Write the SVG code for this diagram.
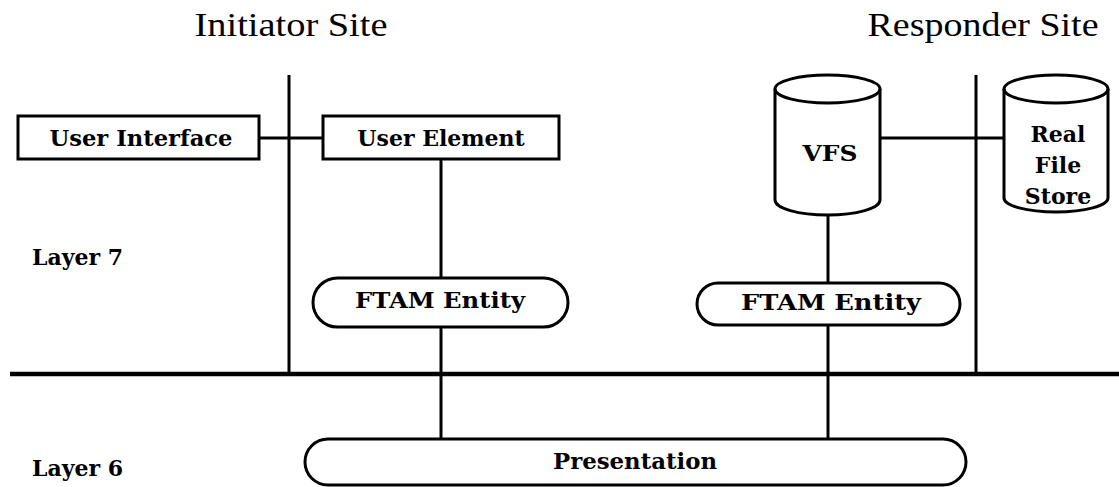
<svg xmlns="http://www.w3.org/2000/svg" width="1119" height="487" viewBox="0 0 1119 487">
<style>
.t{font-family:"DejaVu Serif","Liberation Serif",serif;font-size:22px;font-weight:bold;fill:#000;text-anchor:middle}
.l{font-family:"DejaVu Serif","Liberation Serif",serif;font-size:22px;font-weight:bold;fill:#000}
.h{font-family:"Liberation Serif",serif;font-size:33px;fill:#000;text-anchor:middle}
.s{fill:#fff;stroke:#000;stroke-width:3}
.c{stroke:#000;stroke-width:3;fill:none}
</style>
<rect width="1119" height="487" fill="#fff"/>
<text class="h" x="291" y="36" textLength="193" lengthAdjust="spacingAndGlyphs">Initiator Site</text>
<text class="h" x="983" y="36" textLength="231" lengthAdjust="spacingAndGlyphs">Responder Site</text>
<text class="l" x="32" y="265">Layer 7</text>
<text class="l" x="32" y="476">Layer 6</text>
<g id="connectors">
<line class="c" x1="289" y1="75" x2="289" y2="374"/>
<line class="c" x1="976" y1="75" x2="976" y2="374"/>
<line class="c" x1="259" y1="138" x2="323" y2="138"/>
<line class="c" x1="880" y1="138" x2="1004" y2="138"/>
<line class="c" x1="441" y1="159" x2="441" y2="278"/>
<line class="c" x1="441" y1="327" x2="441" y2="439"/>
<line class="c" x1="828" y1="215" x2="828" y2="283"/>
<line class="c" x1="828" y1="325" x2="828" y2="439"/>
<line x1="10" y1="374" x2="1119" y2="374" stroke="#000" stroke-width="4.5"/>
</g>
<g id="user-interface">
<rect class="s" x="18" y="116" width="241" height="43"/>
<text class="t" x="141" y="146" textLength="183" lengthAdjust="spacingAndGlyphs">User Interface</text>
</g>
<g id="user-element">
<rect class="s" x="323" y="116" width="236" height="43"/>
<text class="t" x="441" y="146">User Element</text>
</g>
<g id="ftam-initiator">
<rect class="s" x="313" y="278" width="255" height="49" rx="24.5"/>
<text class="t" x="440" y="308" textLength="170" lengthAdjust="spacingAndGlyphs">FTAM Entity</text>
</g>
<g id="vfs">
<path class="s" d="M775,89 A52.5,14 0 0 1 880,89 L880,200 A52.5,15 0 0 1 775,200 Z"/>
<path class="c" d="M775,89 A52.5,14 0 0 0 880,89"/>
<text class="t" x="830" y="161" textLength="55" lengthAdjust="spacingAndGlyphs">VFS</text>
</g>
<g id="real-file-store">
<path class="s" d="M1004,89 A52,14 0 0 1 1108,89 L1108,198 A52,14 0 0 1 1004,198 Z"/>
<path class="c" d="M1004,89 A52,14 0 0 0 1108,89"/>
<text class="t" x="1058" y="142">Real</text>
<text class="t" x="1058" y="173">File</text>
<text class="t" x="1058" y="204">Store</text>
</g>
<g id="ftam-responder">
<rect class="s" x="697" y="283" width="263" height="42" rx="21"/>
<text class="t" x="831" y="310" textLength="180" lengthAdjust="spacingAndGlyphs">FTAM Entity</text>
</g>
<g id="presentation">
<rect class="s" x="305" y="439" width="661" height="46" rx="23"/>
<text class="t" x="635" y="469" textLength="164" lengthAdjust="spacingAndGlyphs">Presentation</text>
</g>
</svg>
